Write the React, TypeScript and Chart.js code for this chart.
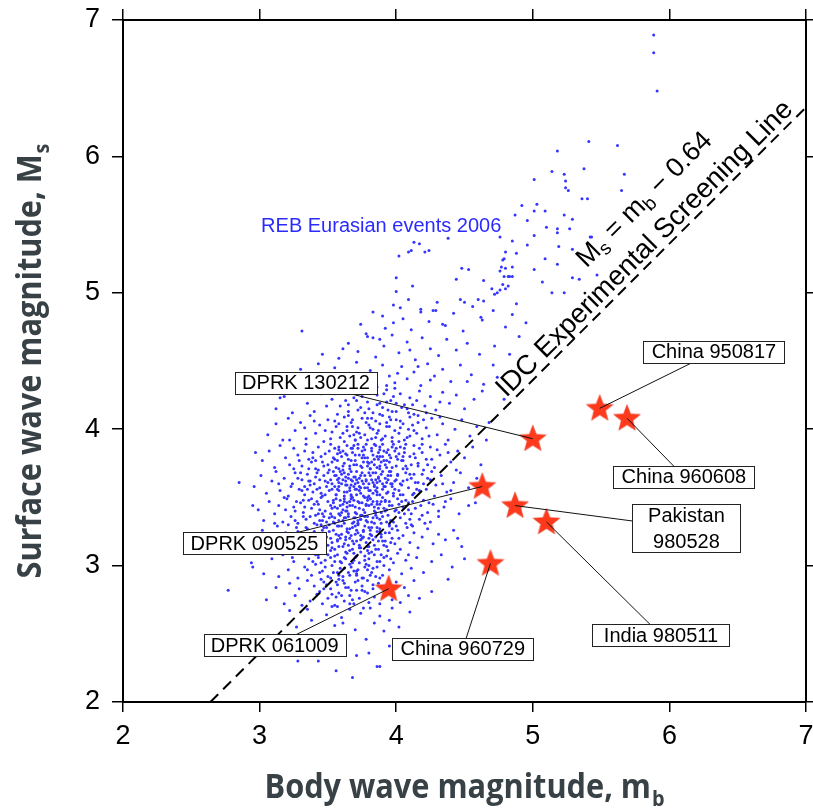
import { useEffect, useRef } from 'react';
import { Chart, registerables } from 'chart.js';

Chart.register(...registerables);

// ---------- axis ticks ----------
const xTicks = [2, 3, 4, 5, 6, 7];
const yTicks = [2, 3, 4, 5, 6, 7];

// ---------- REB Eurasian events 2006 (mb, Ms) ----------
const rebLow: number[][] = [
  [3.68,2.18],[3.56,2.23],[3.86,2.26],[3.88,2.26],[3.28,2.30],[3.43,2.30],[3.71,2.34],[3.52,2.38],[3.95,2.41],[3.33,2.43],[3.62,2.44],[3.80,2.36],
  [3.45,2.47],[3.62,2.49],[3.78,2.46],[3.91,2.52],[3.27,2.55],[3.55,2.56],[3.70,2.53],[3.84,2.58],[4.02,2.55],[3.38,2.60],[3.95,2.60],[3.60,2.62],[3.49,2.64],[3.74,2.65],[3.88,2.63],[4.10,2.66],[3.22,2.67],[3.66,2.68],[3.97,2.69],[3.53,2.70],[3.81,2.69],[3.35,2.68],
  [2.77,2.82],[3.05,2.75],[3.18,2.72],[3.26,2.78],[3.31,2.71],[3.37,2.74],[3.42,2.79],[3.46,2.72],[3.50,2.76],[3.55,2.71],[3.58,2.80],[3.62,2.74],[3.66,2.78],[3.69,2.72],[3.73,2.76],[3.77,2.81],[3.80,2.73],[3.84,2.77],[3.88,2.72],[3.92,2.79],[3.97,2.75],[4.03,2.73],[4.09,2.78],[4.17,2.76],[4.26,2.81],[3.12,2.84],[3.22,2.87],[3.29,2.83],[3.35,2.89],[3.40,2.85],[3.47,2.88],[3.52,2.83],[3.57,2.86],[3.61,2.89],[3.65,2.84],[3.70,2.88],[3.75,2.85],[3.79,2.89],[3.83,2.83],[3.87,2.87],[3.94,2.85],[4.00,2.88],[4.06,2.84],[4.13,2.89],[3.44,2.81],[3.71,2.82],[3.56,2.77],
  [2.94,3.02],[3.03,2.94],[3.09,3.05],[3.14,2.92],[3.17,3.08],[3.21,2.97],[3.25,3.03],[3.28,2.91],[3.30,3.09],[3.33,2.99],[3.36,3.05],[3.38,2.93],[3.41,3.01],[3.43,3.08],[3.46,2.96],[3.48,3.04],[3.50,2.92],[3.53,3.00],[3.55,3.07],[3.57,2.95],[3.59,3.03],[3.62,2.98],[3.64,3.09],[3.66,2.93],[3.68,3.02],[3.70,3.06],[3.72,2.97],[3.74,3.10],[3.76,2.91],[3.78,3.01],[3.80,3.05],[3.82,2.95],[3.84,3.08],[3.86,2.99],[3.88,3.03],[3.90,2.93],[3.93,3.07],[3.95,2.97],[3.98,3.02],[4.01,3.09],[4.04,2.94],[4.07,3.04],[4.11,2.98],[4.15,3.06],[4.20,2.95],[4.26,3.03],[4.33,3.08],[4.41,2.99],[3.35,2.97],[3.47,3.10],[3.58,2.90],[3.63,3.05],[3.71,2.94],[3.77,3.07],[3.85,2.92],[3.91,3.00],[3.52,3.06],[3.44,2.95],[3.67,2.99],[3.79,2.97],[3.96,3.05],[4.09,3.08],[3.24,3.06],[3.39,3.03],[3.61,2.92],[2.95,2.99],[4.38,2.90],[4.50,3.05]
];

const rebMid: number[][] = [
  [2.97,3.18],[3.02,3.26],[3.06,3.13],[3.10,3.22],[3.13,3.29],[3.16,3.15],[3.19,3.24],[3.22,3.11],[3.24,3.20],[3.27,3.28],[3.29,3.16],[3.31,3.23],[3.33,3.12],[3.35,3.27],[3.37,3.19],[3.39,3.14],[3.40,3.25],[3.42,3.30],[3.44,3.17],[3.45,3.11],[3.47,3.22],[3.49,3.28],[3.50,3.15],[3.52,3.20],[3.54,3.26],[3.55,3.12],[3.57,3.18],[3.58,3.29],[3.60,3.23],[3.61,3.14],[3.63,3.19],[3.64,3.27],[3.66,3.11],[3.67,3.22],[3.69,3.16],[3.70,3.29],[3.72,3.24],[3.73,3.13],[3.75,3.20],[3.76,3.26],[3.78,3.17],[3.79,3.11],[3.81,3.23],[3.82,3.28],[3.84,3.15],[3.85,3.21],[3.87,3.12],[3.88,3.27],[3.90,3.18],[3.92,3.24],[3.93,3.14],[3.95,3.29],[3.97,3.20],[3.99,3.16],[4.01,3.26],[4.03,3.12],[4.05,3.22],[4.08,3.28],[4.10,3.17],[4.13,3.24],[4.16,3.13],[4.19,3.21],[4.23,3.27],[4.27,3.16],[4.31,3.23],[4.36,3.19],[4.42,3.26],[4.48,3.14],[3.34,3.21],[3.46,3.26],[3.53,3.13],[3.59,3.20],[3.65,3.24],[3.71,3.18],[3.77,3.29],[3.83,3.19],[3.89,3.23],[3.96,3.17],[4.02,3.20],[3.62,3.16],[3.74,3.22],[3.80,3.14],[3.56,3.23],[3.68,3.28],[3.86,3.25],[3.94,3.11],[3.41,3.18],[3.28,3.25],[4.12,3.29],[3.51,3.30],[4.45,3.20],
  [2.99,3.41],[3.03,3.33],[3.07,3.47],[3.11,3.38],[3.14,3.44],[3.17,3.32],[3.20,3.49],[3.23,3.36],[3.25,3.43],[3.28,3.31],[3.30,3.46],[3.32,3.39],[3.34,3.34],[3.36,3.48],[3.38,3.42],[3.40,3.31],[3.41,3.37],[3.43,3.45],[3.45,3.50],[3.46,3.33],[3.48,3.40],[3.50,3.47],[3.51,3.35],[3.53,3.42],[3.55,3.31],[3.56,3.49],[3.58,3.38],[3.59,3.44],[3.61,3.33],[3.62,3.47],[3.64,3.40],[3.65,3.36],[3.67,3.49],[3.68,3.31],[3.70,3.43],[3.71,3.38],[3.73,3.46],[3.74,3.34],[3.76,3.41],[3.77,3.50],[3.79,3.36],[3.80,3.44],[3.82,3.32],[3.83,3.47],[3.85,3.39],[3.86,3.35],[3.88,3.45],[3.89,3.31],[3.91,3.42],[3.92,3.48],[3.94,3.37],[3.96,3.33],[3.97,3.44],[3.99,3.40],[4.01,3.49],[4.03,3.35],[4.05,3.43],[4.07,3.31],[4.09,3.46],[4.11,3.38],[4.14,3.42],[4.17,3.34],[4.20,3.48],[4.23,3.39],[4.27,3.45],[4.31,3.36],[4.35,3.43],[4.40,3.49],[4.46,3.38],[4.53,3.44],[3.37,3.36],[3.44,3.41],[3.49,3.32],[3.54,3.46],[3.60,3.39],[3.66,3.44],[3.72,3.33],[3.78,3.45],[3.84,3.40],[3.90,3.36],[3.95,3.47],[4.00,3.41],[4.06,3.38],[3.63,3.35],[3.69,3.48],[3.75,3.37],[3.81,3.49],[3.87,3.42],[3.57,3.42],[3.52,3.38],[3.42,3.47],[3.33,3.43],[3.98,3.32],[4.12,3.47],[4.02,3.45],[3.93,3.41],[3.70,3.35],[3.47,3.36],[3.26,3.40],[4.19,3.37],[4.25,3.32],[3.64,3.46],[3.86,3.47],[3.79,3.32],[3.58,3.33],[2.95,3.44],[4.58,3.46],
  [2.96,3.58],[3.01,3.66],[3.05,3.53],[3.09,3.62],[3.12,3.69],[3.15,3.55],[3.18,3.64],[3.21,3.51],[3.24,3.60],[3.26,3.68],[3.29,3.56],[3.31,3.63],[3.33,3.52],[3.35,3.67],[3.37,3.59],[3.39,3.54],[3.41,3.65],[3.43,3.70],[3.44,3.57],[3.46,3.51],[3.48,3.62],[3.50,3.68],[3.51,3.55],[3.53,3.60],[3.55,3.66],[3.56,3.52],[3.58,3.58],[3.59,3.69],[3.61,3.63],[3.62,3.54],[3.64,3.59],[3.65,3.67],[3.67,3.51],[3.68,3.62],[3.70,3.56],[3.71,3.69],[3.73,3.64],[3.74,3.53],[3.76,3.60],[3.77,3.66],[3.79,3.57],[3.80,3.51],[3.82,3.63],[3.83,3.68],[3.85,3.55],[3.86,3.61],[3.88,3.52],[3.89,3.67],[3.91,3.58],[3.92,3.64],[3.94,3.54],[3.95,3.69],[3.97,3.60],[3.99,3.56],[4.01,3.66],[4.03,3.52],[4.05,3.62],[4.07,3.68],[4.09,3.57],[4.11,3.64],[4.13,3.53],[4.16,3.61],[4.19,3.67],[4.22,3.56],[4.25,3.63],[4.29,3.59],[4.33,3.66],[4.37,3.54],[4.42,3.61],[4.47,3.68],[4.53,3.57],[4.59,3.64],[3.36,3.62],[3.42,3.56],[3.47,3.66],[3.52,3.63],[3.57,3.56],[3.63,3.65],[3.69,3.58],[3.75,3.68],[3.81,3.55],[3.87,3.65],[3.93,3.61],[3.98,3.53],[4.04,3.59],[4.10,3.67],[3.60,3.60],[3.66,3.55],[3.72,3.61],[3.78,3.63],[3.84,3.58],[3.90,3.69],[3.54,3.69],[3.49,3.58],[3.40,3.60],[3.28,3.64],[4.00,3.63],[4.15,3.56],[3.96,3.66],[3.86,3.54],[3.62,3.68],[3.70,3.65],[3.80,3.60],[3.58,3.64],[4.20,3.60],[3.45,3.53],[3.33,3.58],[4.26,3.69],[3.74,3.57],[3.67,3.63],[2.85,3.61],[4.65,3.56]
];

const rebHigh: number[][] = [
  [3.02,3.77],[3.07,3.84],[3.11,3.72],[3.15,3.88],[3.19,3.79],[3.22,3.74],[3.25,3.86],[3.28,3.81],[3.31,3.73],[3.34,3.89],[3.36,3.78],[3.39,3.83],[3.41,3.71],[3.43,3.87],[3.46,3.76],[3.48,3.82],[3.50,3.74],[3.52,3.89],[3.54,3.79],[3.56,3.72],[3.58,3.85],[3.60,3.80],[3.62,3.75],[3.64,3.88],[3.66,3.71],[3.68,3.83],[3.70,3.77],[3.72,3.86],[3.74,3.73],[3.76,3.81],[3.78,3.89],[3.80,3.75],[3.82,3.84],[3.84,3.78],[3.86,3.72],[3.88,3.87],[3.90,3.80],[3.92,3.74],[3.94,3.85],[3.96,3.79],[3.98,3.89],[4.00,3.73],[4.02,3.82],[4.04,3.77],[4.06,3.86],[4.08,3.71],[4.10,3.80],[4.13,3.88],[4.16,3.75],[4.19,3.83],[4.22,3.78],[4.25,3.87],[4.28,3.72],[4.32,3.81],[4.36,3.89],[4.40,3.76],[4.45,3.84],[4.50,3.79],[4.56,3.87],[3.45,3.80],[3.51,3.84],[3.57,3.77],[3.63,3.82],[3.69,3.88],[3.75,3.79],[3.81,3.71],[3.87,3.83],[3.93,3.77],[3.99,3.84],[4.05,3.80],[4.11,3.74],[4.17,3.86],[3.61,3.73],[3.67,3.86],[3.73,3.81],[3.79,3.76],[3.85,3.88],[3.91,3.84],[3.97,3.72],[4.03,3.87],[3.55,3.86],[3.47,3.73],[3.38,3.76],[4.14,3.79],[3.83,3.81],[3.71,3.74],[3.59,3.83],[4.23,3.74],[3.95,3.81],[4.07,3.89],[3.33,3.84],[3.77,3.85],[4.30,3.85],[3.65,3.78],[3.89,3.76],[4.01,3.78],[3.53,3.76],[4.38,3.83],[2.97,3.83],[4.62,3.74],
  [3.06,3.96],[3.12,4.04],[3.17,3.92],[3.21,4.08],[3.26,3.99],[3.30,4.05],[3.34,3.93],[3.37,4.10],[3.41,3.97],[3.44,4.03],[3.47,3.91],[3.50,4.07],[3.53,3.98],[3.56,4.02],[3.59,3.94],[3.62,4.09],[3.64,3.99],[3.67,4.05],[3.70,3.92],[3.72,4.01],[3.75,4.08],[3.77,3.96],[3.80,4.03],[3.82,3.93],[3.85,4.06],[3.87,3.99],[3.90,4.10],[3.92,3.95],[3.95,4.02],[3.97,3.91],[4.00,4.07],[4.02,3.97],[4.05,4.04],[4.08,3.94],[4.10,4.09],[4.13,3.99],[4.16,4.05],[4.19,3.93],[4.22,4.01],[4.26,4.08],[4.30,3.96],[4.34,4.04],[4.38,3.92],[4.43,4.00],[4.48,4.07],[4.54,3.95],[4.59,4.02],[3.48,3.99],[3.55,4.06],[3.61,3.97],[3.68,4.02],[3.74,3.94],[3.79,4.08],[3.86,3.97],[3.93,4.05],[3.99,3.99],[4.06,3.92],[4.12,4.03],[4.20,4.07],[3.65,4.10],[3.71,3.98],[3.83,4.00],[3.89,3.92],[4.03,4.01],[4.15,3.97],[3.58,4.04],[3.40,4.06],[3.96,4.07],[4.24,3.95],[3.52,3.93],[3.78,4.05],[4.09,4.00],[4.32,4.09],[3.88,4.04],[3.33,4.01],[4.66,3.92],[4.68,4.05],
  [3.12,4.15],[3.18,4.24],[3.24,4.12],[3.29,4.28],[3.35,4.19],[3.40,4.13],[3.45,4.26],[3.49,4.17],[3.53,4.22],[3.57,4.11],[3.61,4.29],[3.65,4.18],[3.69,4.23],[3.72,4.14],[3.76,4.27],[3.79,4.20],[3.83,4.12],[3.86,4.25],[3.90,4.16],[3.93,4.29],[3.96,4.21],[4.00,4.13],[4.03,4.26],[4.06,4.18],[4.10,4.23],[4.13,4.11],[4.17,4.28],[4.21,4.17],[4.25,4.24],[4.29,4.14],[4.34,4.27],[4.39,4.19],[4.44,4.25],[4.50,4.15],[4.57,4.22],[4.63,4.28],[3.63,4.21],[3.74,4.16],[3.81,4.28],[3.88,4.19],[3.98,4.24],[4.08,4.15],[4.15,4.21],[3.70,4.29],[3.55,4.26],[4.22,4.12],[3.94,4.14],[4.32,4.20],[4.79,4.22],[3.15,4.23]
];

// denser heart of the cloud
const rebDense: number[][] = [
  [3.71,3.52],[3.83,3.61],[3.66,3.47],[3.92,3.58],[3.77,3.39],[3.58,3.55],[3.88,3.71],[3.63,3.62],[3.95,3.44],[3.74,3.66],[3.81,3.49],[3.69,3.35],[3.86,3.57],[3.54,3.48],[3.99,3.62],[3.79,3.73],[3.61,3.41],[3.73,3.58],[3.90,3.50],[3.67,3.69],[3.84,3.43],[3.57,3.63],[3.96,3.69],[3.75,3.46],[3.64,3.54],[3.87,3.64],[3.72,3.31],[3.82,3.76],[3.59,3.37],[3.93,3.53],[3.70,3.60],[3.80,3.55],[3.62,3.49],[3.91,3.77],[3.76,3.51],[3.68,3.44],[3.85,3.68],[3.55,3.58],[4.02,3.55],[3.78,3.62],
  [3.66,3.73],[3.89,3.39],[3.73,3.42],[3.60,3.67],[3.94,3.63],[3.81,3.66],[3.71,3.56],[3.52,3.44],[3.86,3.52],[3.65,3.38],[4.05,3.71],[3.77,3.79],[3.63,3.59],[3.92,3.47],[3.84,3.59],[3.58,3.71],[3.74,3.34],[3.97,3.58],[3.69,3.65],[3.82,3.45],[3.50,3.61],[3.88,3.80],[3.67,3.52],[3.79,3.48],[4.08,3.63],[3.61,3.45],[3.75,3.72],[3.90,3.60],[3.56,3.52],[3.83,3.35],
  [3.47,3.28],[3.58,3.22],[3.66,3.27],[3.74,3.19],[3.81,3.26],[3.89,3.21],[3.53,3.17],[3.62,3.31],[3.70,3.23],[3.78,3.33],[3.86,3.28],[3.95,3.24],[3.44,3.33],[3.57,3.29],[3.68,3.18],[3.76,3.25],[3.84,3.31],[3.92,3.18],[4.00,3.29],[3.51,3.25],[3.63,3.21],[3.72,3.30],[3.80,3.20],[3.88,3.34],[3.97,3.27],[3.40,3.24],[3.55,3.35],[3.65,3.15],[3.79,3.14],[3.93,3.32],
  [3.43,3.06],[3.52,3.11],[3.60,3.02],[3.69,3.09],[3.77,3.04],[3.85,3.12],[3.48,2.99],[3.57,3.08],[3.66,3.01],[3.74,3.13],[3.83,2.98],[3.91,3.06],[3.39,3.12],[3.54,2.95],[3.63,3.10],[3.71,2.96],[3.80,3.09],[3.45,3.02],[3.69,3.04],[3.86,3.03],
  [3.49,2.86],[3.58,2.93],[3.67,2.82],[3.75,2.91],[3.83,2.86],[3.53,2.79],[3.62,2.87],[3.71,2.93],[3.79,2.80],[3.45,2.90],[3.88,2.91],[3.57,2.70],[3.68,2.75],[3.76,2.69],[3.61,2.58],
  [3.68,3.86],[3.79,3.92],[3.88,3.85],[3.97,3.94],[4.06,3.83],[3.73,3.97],[3.84,3.89],[3.93,4.02],[4.02,3.91],[3.62,3.91],[3.57,3.82],[3.95,3.76],[4.10,3.95],[3.70,3.81],[3.81,4.01],[3.90,3.93],[4.00,3.86],[3.66,3.95],[3.76,3.87],[4.13,3.82],
  [3.77,4.12],[3.86,4.18],[3.95,4.09],[4.04,4.16],[3.71,4.21],[3.91,4.26],[4.00,4.19],[4.09,4.12],[3.82,4.08],[3.99,4.30],[3.65,4.13],[4.16,4.10],
  [3.38,3.49],[3.31,3.55],[3.36,3.71],[3.27,3.47],[3.43,3.38],[3.34,3.28],[3.23,3.58],[3.30,3.68],[3.41,3.77],[3.19,3.41],[3.26,3.33],[3.37,3.62],[4.12,3.52],[4.18,3.44],[4.23,3.64],[4.10,3.34],[4.28,3.51],[4.16,3.73],[4.21,3.31],[4.34,3.60],[4.07,3.48],[4.14,3.61],[4.31,3.40],[4.40,3.55],[4.26,3.78],[4.19,3.89],[4.44,3.70],[4.36,3.47]
];

const rebCore: number[][] = [
  [3.73,3.55],[3.85,3.63],[3.62,3.51],[3.94,3.66],[3.78,3.44],[3.67,3.59],[3.89,3.47],[3.56,3.66],[3.81,3.71],[3.70,3.39],[3.98,3.51],[3.64,3.43],[3.87,3.78],[3.75,3.62],[3.59,3.48],[3.92,3.40],[3.69,3.74],[3.83,3.53],[3.53,3.56],[4.01,3.67],
  [3.77,3.57],[3.65,3.64],[3.90,3.56],[3.72,3.47],[3.58,3.61],[3.86,3.45],[3.80,3.68],[3.68,3.50],[3.96,3.60],[3.61,3.70],[3.74,3.37],[3.88,3.62],[3.55,3.43],[3.84,3.74],[3.71,3.63],[3.63,3.40],[3.93,3.72],[3.79,3.50],[3.66,3.57],[4.04,3.47],
  [3.60,3.29],[3.71,3.26],[3.82,3.22],[3.54,3.32],[3.66,3.20],[3.77,3.36],[3.88,3.25],[3.49,3.21],[3.62,3.35],[3.73,3.15],[3.85,3.37],[3.95,3.30],[3.57,3.19],[3.69,3.32],[3.80,3.28],[3.91,3.15],[3.45,3.30],[3.64,3.25],[3.76,3.21],[3.87,3.18],
  [3.50,3.08],[3.59,2.98],[3.68,3.12],[3.77,2.99],[3.62,3.06],[3.73,3.02],[3.82,3.10],[3.55,3.03],[3.46,3.12],[3.65,2.95],[3.89,3.08],[3.71,3.07],[3.58,3.14],[3.80,3.00],[3.41,3.08],
  [3.52,2.91],[3.63,2.84],[3.72,2.89],[3.60,2.78],[3.81,2.93],[3.47,2.83],[3.69,2.96],[3.56,2.88],[3.75,2.82],[3.66,2.72],
  [3.64,3.81],[3.75,3.84],[3.86,3.80],[3.58,3.87],[3.70,3.92],[3.82,3.86],[3.93,3.83],[3.67,3.77],[3.79,3.79],[3.90,3.89],[3.55,3.78],[4.00,3.80],[3.72,3.89],[3.85,3.94],[3.61,3.84],[3.97,3.87],[3.76,3.76],[3.88,3.73],[3.69,3.96],[4.05,3.77],
  [3.48,3.52],[3.44,3.63],[3.40,3.45],[3.51,3.70],[3.35,3.56],[3.46,3.38],[3.42,3.68],[3.32,3.48],[3.53,3.36],[3.39,3.79],
  [4.05,3.52],[4.09,3.41],[4.13,3.67],[4.02,3.39],[4.17,3.55],[4.07,3.73],[4.24,3.46],[4.11,3.30],[4.20,3.70],[4.03,3.60],
  [3.27,3.22],[3.32,3.36],[3.21,3.30],[3.36,3.16],[3.18,3.50],[3.25,3.71],[3.14,3.60],[3.29,3.77],[3.22,3.92],[3.11,3.31],
  [3.80,4.15],[3.68,4.07],[3.93,4.20],[4.03,4.06],[3.59,4.17],[3.88,4.11],[4.12,4.18],[3.75,4.24],[3.97,4.13],[3.64,4.02]
];

const rebUpper: number[][] = [
  [3.22,4.36],[3.30,4.44],[3.36,4.32],[3.43,4.48],[3.49,4.38],[3.55,4.45],[3.60,4.33],[3.66,4.41],[3.71,4.49],[3.76,4.35],[3.81,4.43],[3.86,4.31],[3.90,4.47],[3.95,4.39],[3.99,4.34],[4.04,4.46],[4.08,4.37],[4.13,4.42],[4.18,4.32],[4.23,4.48],[4.28,4.39],[4.34,4.44],[4.40,4.35],[4.47,4.47],[4.55,4.40],[4.64,4.33],[3.84,4.40],[3.93,4.32],[4.01,4.41],[4.16,4.46],[3.69,4.37],[4.25,4.36],[4.74,4.38],[4.52,4.35],[4.71,4.47],
  [3.31,4.72],[3.46,4.55],[3.58,4.52],[3.61,4.59],[3.65,4.63],[3.72,4.57],[3.79,4.68],[3.85,4.53],[3.91,4.61],[3.97,4.69],[4.02,4.56],[4.08,4.64],[4.14,4.51],[4.19,4.67],[4.25,4.59],[4.31,4.54],[4.37,4.66],[4.44,4.58],[4.52,4.63],[4.61,4.55],[4.72,4.61],[3.88,4.66],[4.10,4.58],[4.83,4.55],[4.90,4.68],
  [3.74,4.77],[3.78,4.70],[3.83,4.67],[3.83,4.86],[3.90,4.83],[3.92,4.74],[3.98,4.78],[3.98,4.91],[4.03,4.89],[4.05,4.81],[4.09,4.95],[4.11,4.73],[4.18,4.86],[4.18,4.88],[4.24,4.79],[4.27,4.87],[4.29,4.87],[4.30,4.93],[4.34,4.77],[4.36,4.76],[4.42,4.85],[4.49,4.72],[4.50,4.93],[4.56,4.90],[4.60,4.95],[4.62,4.82],[4.63,4.80],[4.64,4.94],[4.71,4.87],[4.80,4.75],[4.85,4.84],[4.88,4.92],[4.95,4.78],[4.47,4.95]
];

const rebTail: number[][] = [
  [5.885,6.89],[5.885,6.76],[5.91,6.48],[5.41,6.11],[5.62,6.08],[5.18,6.04],[5.375,5.91],[5.67,5.87],[5.14,5.89],[5.01,5.83],
  [5.23,5.87],[5.24,5.82],[5.24,5.77],[5.26,5.75],[5.36,5.69],[5.40,5.69],[5.65,5.75],[4.92,5.64],[5.03,5.65],[5.01,5.60],
  [5.09,5.60],[4.87,5.57],[4.96,5.53],[5.23,5.57],[5.29,5.54],[5.10,5.48],[5.18,5.47],[5.18,5.44],[5.27,5.47],[5.01,5.42],
  [5.42,5.41],[5.43,5.41],[4.38,5.40],[4.76,5.41],[4.85,5.38],[4.13,5.37],[4.17,5.36],[4.96,5.35],[5.29,5.32],[5.19,5.34],
  [4.09,5.30],[4.21,5.30],[4.02,5.27],[4.88,5.29],[4.80,5.30],[4.79,5.25],[4.78,5.24],[4.77,5.19],[4.80,5.18],[4.76,5.16],
  [4.79,5.12],[4.82,5.12],[4.78,5.06],[4.82,5.05],[4.80,5.03],[5.09,5.25],[5.18,5.21],[5.01,5.17],[5.07,5.08],[5.14,5.00],
  [5.23,5.00],[4.85,5.19],[4.85,5.12],[4.83,5.12],[4.48,5.18],[4.53,5.17],[4.44,5.10],[4.64,5.09],[4.70,5.03],[4.72,4.99],
  [4.00,5.11],[4.12,5.05],[4.00,5.01],[5.29,5.11],[5.34,5.10],[5.47,5.13],[4.76,5.02],[4.74,5.00],[4.11,5.31],[4.24,5.31]
];

// ---------- IDC experimental screening line: Ms = mb - 0.64 ----------
const screenLineMb = [2.64, 7];
const screenOffset = 0.64;

// ---------- explosions (stars) ----------
const eventNames = ['DPRK 130212', 'DPRK 090525', 'DPRK 061009', 'China 960729', 'Pakistan\n980528', 'India 980511', 'China 950817', 'China 960608'];
const eventMb = [5.00, 4.63, 3.945, 4.69, 4.87, 5.10, 5.49, 5.69];
const eventMs = [3.93, 3.58, 2.83, 3.016, 3.44, 3.32, 4.153, 4.08];

// label box centres (data units) and box widths (px)
const labelMb = [3.34, 2.963, 3.11, 4.487, 6.125, 5.938, 6.326, 6.106];
const labelMs = [4.34, 3.165, 2.416, 2.39, 3.275, 2.49, 4.567, 3.653];
const labelBoxWidth = [142, 143, 142, 141, 108, 137, 141, 141];

const cloudLabel = 'REB Eurasian events 2006';
const cloudLabelPos = [3.011, 5.448];

const SANS = '"Liberation Sans", Arial, Helvetica, sans-serif';
const TITLE_FONT = '"Open Sans", "Noto Sans", sans-serif';

function makeStar(): HTMLCanvasElement {
  const c = document.createElement('canvas');
  c.width = 32; c.height = 32;
  const g = c.getContext('2d')!;
  const R = 14, r = 6;
  g.beginPath();
  for (let i = 0; i < 10; i++) {
    const a = -Math.PI / 2 + (i * Math.PI) / 5;
    const rad = i % 2 === 0 ? R : r;
    const px = 16 + rad * Math.cos(a), py = 16.5 + rad * Math.sin(a);
    if (i === 0) g.moveTo(px, py); else g.lineTo(px, py);
  }
  g.closePath();
  g.fillStyle = '#ff3a1c';
  g.fill();
  g.strokeStyle = '#e8301a';
  g.lineWidth = 0.6;
  g.stroke();
  return c;
}

const annotatePlugin = {
  id: 'annotate',
  afterDatasetsDraw(chart: any) {
    const { ctx, scales } = chart;
    const xs = scales.x, ys = scales.y;
    ctx.save();

    // cloud label
    ctx.font = `20px ${SANS}`;
    ctx.fillStyle = '#2b2bff';
    ctx.textAlign = 'left';
    ctx.textBaseline = 'alphabetic';
    ctx.fillText(cloudLabel, xs.getPixelForValue(cloudLabelPos[0]), ys.getPixelForValue(cloudLabelPos[1]));

    // rotated screening-line annotations
    const p1x = xs.getPixelForValue(screenLineMb[0]);
    const p1y = ys.getPixelForValue(screenLineMb[0] - screenOffset);
    const p2x = xs.getPixelForValue(screenLineMb[1]);
    const p2y = ys.getPixelForValue(screenLineMb[1] - screenOffset);
    const ang = Math.atan2(p2y - p1y, p2x - p1x);
    const at = (mb: number) => [xs.getPixelForValue(mb), ys.getPixelForValue(mb - screenOffset)];

    ctx.fillStyle = '#000';
    ctx.font = `27.5px ${SANS}`;
    let [cx, cy] = at(5.89);
    ctx.save();
    ctx.translate(cx, cy);
    ctx.rotate(ang);
    ctx.textAlign = 'center';
    ctx.fillText('IDC Experimental Screening Line', 0, -6);
    ctx.restore();

    // Ms = mb − 0.64 with subscripts
    const parts: [string, boolean][] = [['M', false], ['s', true], [' = m', false], ['b', true], [' \u2212 0.64', false]];
    const big = `27px ${SANS}`, small = `19px ${SANS}`;
    let total = 0;
    const widths = parts.map(([t, s]) => { ctx.font = s ? small : big; const w = ctx.measureText(t).width; total += w; return w; });
    [cx, cy] = at(6.07);
    ctx.save();
    ctx.translate(cx, cy);
    ctx.rotate(ang);
    ctx.textAlign = 'left';
    let xx = -total / 2;
    parts.forEach(([t, s], i) => {
      ctx.font = s ? small : big;
      ctx.fillText(t, xx, s ? -41 + 5 : -41);
      xx += widths[i];
    });
    ctx.restore();

    // leader lines
    ctx.strokeStyle = '#111';
    ctx.lineWidth = 1;
    eventNames.forEach((_, i) => {
      ctx.beginPath();
      ctx.moveTo(xs.getPixelForValue(eventMb[i]), ys.getPixelForValue(eventMs[i]));
      ctx.lineTo(xs.getPixelForValue(labelMb[i]), ys.getPixelForValue(labelMs[i]));
      ctx.stroke();
    });

    // label boxes
    ctx.font = `20px ${SANS}`;
    ctx.textAlign = 'center';
    ctx.textBaseline = 'middle';
    eventNames.forEach((name, i) => {
      const lines = name.split('\n');
      const bx = xs.getPixelForValue(labelMb[i]);
      const by = ys.getPixelForValue(labelMs[i]);
      const w = labelBoxWidth[i];
      const h = lines.length > 1 ? 48 : 22;
      const left = Math.round(bx - w / 2) + 0.5, top = Math.round(by - h / 2) + 0.5;
      ctx.fillStyle = '#fff';
      ctx.fillRect(left, top, w, h);
      ctx.strokeStyle = '#222';
      ctx.strokeRect(left, top, w, h);
      ctx.fillStyle = '#000';
      lines.forEach((ln, k) => {
        const off = lines.length > 1 ? (k === 0 ? -12 : 14) : 1;
        ctx.fillText(ln, bx, by + off);
      });
    });
    ctx.restore();
  },
  afterDraw(chart: any) {
    const { ctx, chartArea } = chart;
    ctx.save();
    ctx.fillStyle = '#384246';
    ctx.textBaseline = 'alphabetic';
    ctx.textAlign = 'left';
    const bigF = `bold 34px ${TITLE_FONT}`, subF = `bold 22px ${TITLE_FONT}`;
    const measure = (t: string, f: string) => { ctx.font = f; return ctx.measureText(t).width; };
    const xMain = 'Body wave magnitude, m', xSub = 'b';
    const xW = measure(xMain, bigF) + 1 + measure(xSub, subF);
    const sx = 400 / xW;
    const drawTitle = (main: string, sub: string) => {
      const wm = measure(main, bigF), ws = measure(sub, subF);
      const tot = wm + 1 + ws;
      ctx.font = bigF;
      ctx.fillText(main, -tot / 2, 0);
      ctx.font = subF;
      ctx.fillText(sub, -tot / 2 + wm + 1, 8);
    };
    ctx.save();
    ctx.translate((chartArea.left + chartArea.right) / 2, 798);
    ctx.scale(sx, 1);
    drawTitle(xMain, xSub);
    ctx.restore();
    ctx.save();
    ctx.translate(41, (chartArea.top + chartArea.bottom) / 2);
    ctx.rotate(-Math.PI / 2);
    ctx.scale(sx, 1);
    drawTitle('Surface wave magnitude, M', 's');
    ctx.restore();
    ctx.restore();
  }
};

export default function App() {
  const ref = useRef<HTMLCanvasElement>(null);
  useEffect(() => {
    if (!ref.current) return;
    const star = makeStar();
    const cloud = [...rebLow, ...rebMid, ...rebDense, ...rebCore, ...rebHigh, ...rebUpper, ...rebTail].map(([x, y]) => ({ x, y }));
    const tickFont = { family: SANS, size: 27 };
    const axisGrid = (len: number) => ({ display: true, drawOnChartArea: false, drawTicks: true, tickLength: len, color: '#000', lineWidth: 1.5 });
    const border = { display: true, color: '#000', width: 2 };
    const setTicks = (vals: number[]) => (s: any) => { s.ticks = vals.map((v) => ({ value: v })); };
    const noPadH = (s: any) => { s.paddingLeft = 0; s.paddingRight = 0; };
    const noPadV = (s: any) => { s.paddingTop = 0; s.paddingBottom = 0; };

    const chart = new Chart(ref.current, {
      type: 'scatter',
      data: {
        datasets: [
          {
            type: 'scatter',
            label: 'Explosions',
            data: eventMb.map((x, i) => ({ x, y: eventMs[i] })),
            pointStyle: star as any,
            pointRadius: 15,
            order: 0,
          },
          {
            type: 'line',
            label: 'IDC screening line',
            data: screenLineMb.map((m) => ({ x: m, y: m - screenOffset })),
            borderColor: '#000',
            borderWidth: 2,
            borderDash: [11, 7],
            pointRadius: 0,
            fill: false,
            order: 1,
          },
          {
            type: 'scatter',
            label: cloudLabel,
            data: cloud,
            pointRadius: 1.5,
            pointBorderWidth: 0,
            backgroundColor: '#3535ff',
            borderColor: '#3535ff',
            order: 2,
          },
        ],
      },
      options: {
        animation: false,
        responsive: false,
        events: [],
        layout: { padding: 0, autoPadding: false },
        plugins: { legend: { display: false }, tooltip: { enabled: false } },
        scales: {
          x: {
            type: 'linear', position: 'bottom', min: 2, max: 7,
            ticks: { padding: 8, color: '#000', font: tickFont, callback: (v: any) => String(v) },
            grid: axisGrid(10), border,
            afterBuildTicks: setTicks(xTicks),
            afterFit: (s: any) => { s.height = 109; noPadH(s); },
          },
          x2: {
            type: 'linear', position: 'top', min: 2, max: 7,
            ticks: { display: false },
            grid: axisGrid(11), border,
            afterBuildTicks: setTicks(xTicks),
            afterFit: (s: any) => { s.height = 20; noPadH(s); },
          },
          y: {
            type: 'linear', position: 'left', min: 2, max: 7,
            ticks: { padding: 12, color: '#000', font: tickFont, callback: (v: any) => String(v) },
            grid: axisGrid(11), border,
            afterBuildTicks: setTicks(yTicks),
            afterFit: (s: any) => { s.width = 123; noPadV(s); },
          },
          y2: {
            type: 'linear', position: 'right', min: 2, max: 7,
            ticks: { display: false },
            grid: axisGrid(10), border,
            afterBuildTicks: setTicks(yTicks),
            afterFit: (s: any) => { s.width = 7; noPadV(s); },
          },
        },
      } as any,
      plugins: [annotatePlugin],
    });
    return () => chart.destroy();
  }, []);

  return (
    <div style={{ position: 'absolute', left: 0, top: 0, width: 813, height: 811, background: '#fff' }}>
      <canvas ref={ref} width={813} height={811} style={{ display: 'block', width: 813, height: 811 }} />
    </div>
  );
}
